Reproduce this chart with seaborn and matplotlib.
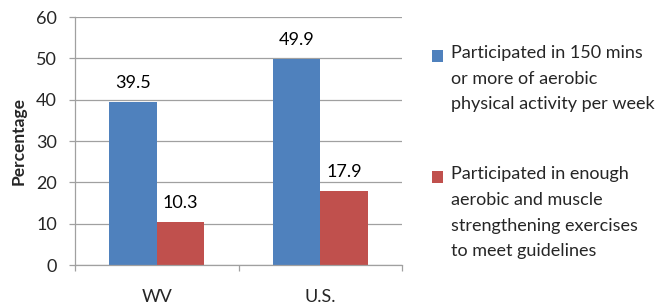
import matplotlib
matplotlib.use("Agg")
import matplotlib.pyplot as plt
import matplotlib.patches as mpatches
import seaborn as sns
import pandas as pd

regions = ["WV", "U.S."]
series = [
    "Participated in 150 mins\nor more of aerobic\nphysical activity per week",
    "Participated in enough\naerobic and muscle\nstrengthening exercises\nto meet guidelines",
]
aerobic = [39.5, 49.9]
muscle = [10.3, 17.9]
colors = ["#4F81BD", "#C0504D"]
yticks = [0, 10, 20, 30, 40, 50, 60]

df = pd.DataFrame({
    "region": regions * 2,
    "series": [series[0]] * 2 + [series[1]] * 2,
    "value": aerobic + muscle,
})

sns.set_theme(style="white")
plt.rcParams["font.family"] = ["Lato", "DejaVu Sans"]

fs = 13
fig = plt.figure(figsize=(6.66, 3.05), dpi=100)
ax = fig.add_axes([75 / 666, 1 - 265 / 305, 327 / 666, 248 / 305])

sns.barplot(data=df, x="region", y="value", hue="series", palette=colors,
            width=0.58, saturation=1, legend=False, linewidth=0, ax=ax)

for bars in ax.containers:
    for p in bars:
        h = p.get_height()
        ax.annotate(f"{h:.1f}", (p.get_x() + p.get_width() / 2, h),
                    ha="center", va="bottom", xytext=(0, 8),
                    textcoords="offset points", fontsize=fs, color="#000000")

ax.set_xlim(-0.5, 1.5)
ax.set_ylim(0, 60)
ax.set_yticks(yticks)
ax.yaxis.grid(True, color="#A0A0A0", linewidth=0.9)
ax.set_axisbelow(True)
for s in ["top", "right"]:
    ax.spines[s].set_visible(False)
for s in ["left", "bottom"]:
    ax.spines[s].set_color("#A0A0A0")
    ax.spines[s].set_linewidth(0.9)

ax.tick_params(axis="y", which="major", length=4, width=0.9, color="#A0A0A0",
               pad=9, labelsize=fs, left=True)
ax.set_xticks([-0.5, 0.5, 1.5], minor=True)
ax.tick_params(axis="x", which="minor", length=4, width=0.9, color="#A0A0A0", bottom=True)
ax.tick_params(axis="x", which="major", length=0, pad=17, labelsize=fs)
ax.set_xlabel("")
ax.set_ylabel("Percentage", fontsize=12.5, fontweight="bold", labelpad=7)

# legend drawn by hand so the square sits next to the first line
leg_tops = [50, 171]
for col, lab, top in zip(colors, series, leg_tops):
    fig.patches.append(mpatches.Rectangle((432 / 666, 1 - (top + 12) / 305), 11 / 666, 12 / 305,
                                          transform=fig.transFigure, facecolor=col,
                                          edgecolor="none"))
    fig.text(451 / 666, 1 - (top - 5) / 305, lab, ha="left", va="top",
             fontsize=fs, linespacing=1.75)

fig.savefig("out.png", dpi=100)
